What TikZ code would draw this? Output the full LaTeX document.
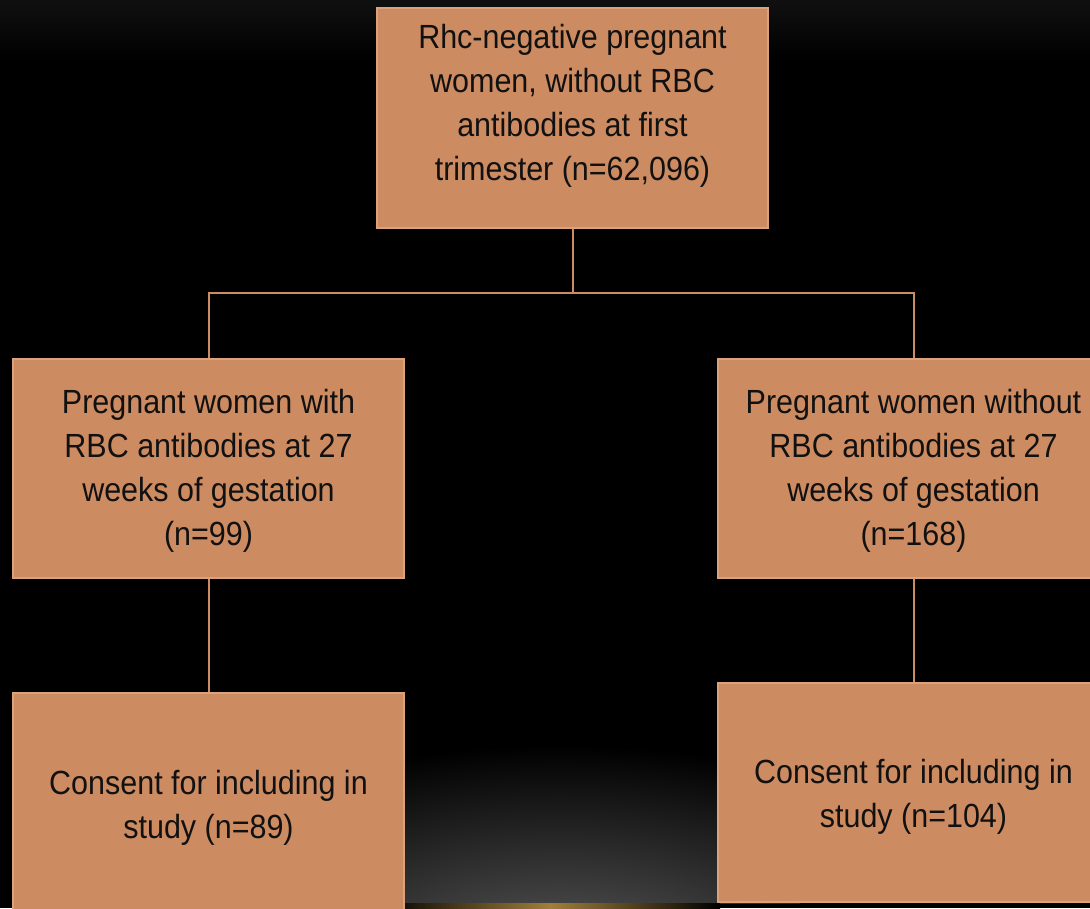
\documentclass[tikz,border=0pt]{standalone}
\usepackage{fontspec}
\setmainfont{Liberation Sans}[FakeStretch=0.91]
\definecolor{boxfill}{HTML}{CD8B62}
\definecolor{boxedge}{HTML}{DCA27C}
\definecolor{linkcol}{HTML}{CD8B62}
\definecolor{txt}{HTML}{111111}
\definecolor{bgtop}{HTML}{101010}
\definecolor{glow}{HTML}{5A5A5A}
\definecolor{gold}{HTML}{A07E3A}
\begin{document}
\begin{tikzpicture}[x=1pt,y=-1pt,
  flowbox/.style={draw=boxedge,fill=boxfill,line width=1.5pt,minimum width=391pt,minimum height=220pt,inner sep=0pt},
  flowtext/.style={text=txt,align=center,inner sep=0pt,font=\fontsize{33.5}{44}\selectfont},
  link/.style={draw=linkcol,line width=2pt}]
\useasboundingbox (0,0) rectangle (1090,908);
\clip (0,0) rectangle (1090,908);
% background
\fill[black] (0,0) rectangle (1090,908);
\shade[top color=bgtop,bottom color=black] (0,0) rectangle (1090,60);
\begin{scope}
\clip (300,650) rectangle (800,903);
\shade[inner color=glow,outer color=black] (560,960) ellipse [x radius=480pt, y radius=215pt];
\end{scope}
\shade[left color=black,right color=black,middle color=gold] (380,903) rectangle (720,908);
% boxes
\node[flowbox] (top) at (572.5,118) {};
\node[flowbox,minimum height=219pt] (lm) at (208.5,468.5) {};
\node[flowbox,minimum height=219pt] (rm) at (913.5,468.5) {};
\node[flowbox] (lb) at (208.5,803) {};
\node[flowbox,minimum height=219pt] (rb) at (913.5,792.5) {};
% connectors
\coordinate (j) at (572.5,293);
\draw[link] (top.south) -- (j);
\draw[link] (lm.north) |- (j) -| (rm.north);
\draw[link] (lm.south) -- (lb.north);
\draw[link] (rm.south) -- (rb.north);
% texts
\node[flowtext] (ttop) at (572.5,106) {\strut Rhc-negative pregnant\\\strut women, without RBC\\\strut antibodies at first\\\strut trimester (n=62,096)};
\node[flowtext] (tlm) at (208.5,471) {\strut Pregnant women with\\\strut RBC antibodies at 27\\\strut weeks of gestation\\\strut (n=99)};
\node[flowtext] (trm) at (913.5,471) {\strut Pregnant women without\\\strut RBC antibodies at 27\\\strut weeks of gestation\\\strut (n=168)};
\node[flowtext] (tlb) at (208.5,808) {\strut Consent for including in\\\strut study (n=89)};
\node[flowtext] (trb) at (913.5,797) {\strut Consent for including in\\\strut study (n=104)};
\end{tikzpicture}
\end{document}
